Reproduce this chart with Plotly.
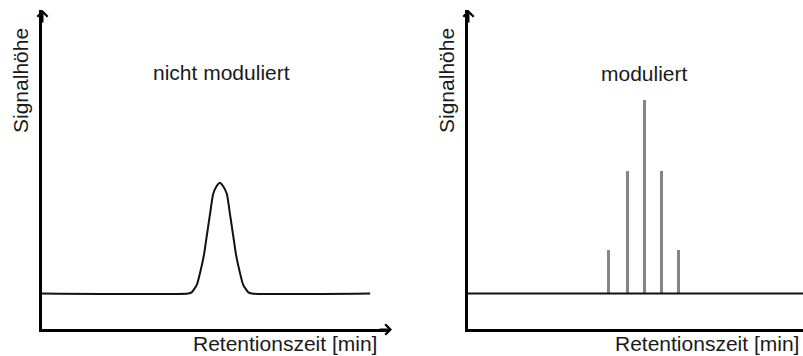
import plotly.graph_objects as go

# Unmodulated chromatogram: one Gaussian-shaped peak on a flat baseline
peak_time = [0.0, 4.20, 4.30, 4.45, 4.56, 4.66, 4.73, 4.83, 4.92, 5.02, 5.11,
             5.20, 5.31, 5.40, 5.50, 5.57, 5.67, 5.78, 5.93, 6.03, 9.43]
peak_signal = [0.0, 0.0, 0.01, 0.08, 0.21, 0.36, 0.51, 0.72, 0.90, 0.97, 1.0,
               0.97, 0.90, 0.72, 0.51, 0.36, 0.21, 0.08, 0.01, 0.0, 0.0]

# Modulated chromatogram: the same peak sliced into narrow pulses
pulse_time = [4.05, 4.57, 5.06, 5.57, 6.06]
pulse_signal = [0.39, 1.11, 1.75, 1.11, 0.39]
mod_baseline_time = [0.0, 9.63]
mod_baseline_signal = [0.0, 0.0]

titles = ["nicht moduliert", "moduliert"]
y_label = "Signalhöhe"
x_label = "Retentionszeit [min]"

W, H = 803, 356
FONT = "Liberation Sans, Arial, sans-serif"
TXT = "#1a1a1a"

# pixel layout of the two panels
left_x0, left_x1 = 42, 390
right_x0, right_x1 = 468, 803
y_bottom, y_top = 329, 10
px_per_min = 34.8
px_per_unit = 110.8
base_px = 293.5


def fx(px):
    return px / W


def fy(py):
    return 1 - py / H


y_range = [-(y_bottom - base_px) / px_per_unit, (base_px - y_top) / px_per_unit]

fig = go.Figure()

fig.add_trace(go.Scatter(
    x=peak_time, y=peak_signal, mode="lines",
    line=dict(color="#111111", width=2, shape="spline", smoothing=0.6),
    xaxis="x", yaxis="y", showlegend=False, hoverinfo="skip"))

fig.add_trace(go.Bar(
    x=pulse_time, y=pulse_signal, width=0.085,
    marker=dict(color="#858585", line=dict(width=0)),
    xaxis="x2", yaxis="y2", showlegend=False, hoverinfo="skip"))

fig.add_trace(go.Scatter(
    x=mod_baseline_time, y=mod_baseline_signal, mode="lines",
    line=dict(color="#111111", width=2),
    xaxis="x2", yaxis="y2", showlegend=False, hoverinfo="skip"))

axis_common = dict(showgrid=False, zeroline=False, showticklabels=False,
                   ticks="", showline=True, linecolor="#000000", linewidth=2.5)

fig.update_layout(
    width=W, height=H,
    margin=dict(l=0, r=0, t=0, b=0),
    paper_bgcolor="white", plot_bgcolor="white",
    bargap=0,
    xaxis=dict(domain=[fx(left_x0), fx(left_x1)],
               range=[0, (left_x1 - left_x0) / px_per_min],
               anchor="y", **axis_common),
    yaxis=dict(domain=[fy(y_bottom), fy(y_top)], range=y_range,
               anchor="x", **axis_common),
    xaxis2=dict(domain=[fx(right_x0), 1.0],
                range=[0, (right_x1 - right_x0) / px_per_min],
                anchor="y2", **axis_common),
    yaxis2=dict(domain=[fy(y_bottom), fy(y_top)], range=y_range,
                anchor="x2", **axis_common),
)

ann = []
# axis arrowheads
arrow = dict(text="", showarrow=True, arrowhead=4, arrowsize=1,
             arrowwidth=2, arrowcolor="#000000", standoff=0,
             xref="paper", yref="paper", axref="pixel", ayref="pixel")
ann.append(dict(x=fx(left_x0 + 0.5), y=fy(y_top), ax=0, ay=14, **arrow))
ann.append(dict(x=fx(392), y=fy(y_bottom + 0.5), ax=-14, ay=0, **arrow))
ann.append(dict(x=fx(right_x0 + 0.5), y=fy(y_top), ax=0, ay=14, **arrow))

text_font = dict(family=FONT, size=21, color=TXT)
# panel titles
ann.append(dict(text=titles[0], x=fx(221.5), y=fy(72), xref="paper", yref="paper",
                xanchor="center", yanchor="middle", showarrow=False, font=text_font))
ann.append(dict(text=titles[1], x=fx(644), y=fy(73), xref="paper", yref="paper",
                xanchor="center", yanchor="middle", showarrow=False, font=text_font))
# y-axis labels
for ax_px in (left_x0, right_x0):
    ann.append(dict(text=y_label, x=fx(ax_px - 21), y=fy(81), xref="paper", yref="paper",
                    xanchor="center", yanchor="middle", textangle=-90,
                    showarrow=False, font=text_font))
# x-axis labels
ann.append(dict(text=x_label, x=fx(191), y=fy(343), xref="paper", yref="paper",
                xanchor="left", yanchor="middle", showarrow=False, font=text_font))
ann.append(dict(text=x_label, x=fx(801), y=fy(343), xref="paper", yref="paper",
                xanchor="right", yanchor="middle", showarrow=False, font=text_font))

fig.update_layout(annotations=ann)

fig.write_html("out.html", config={"displayModeBar": False})
